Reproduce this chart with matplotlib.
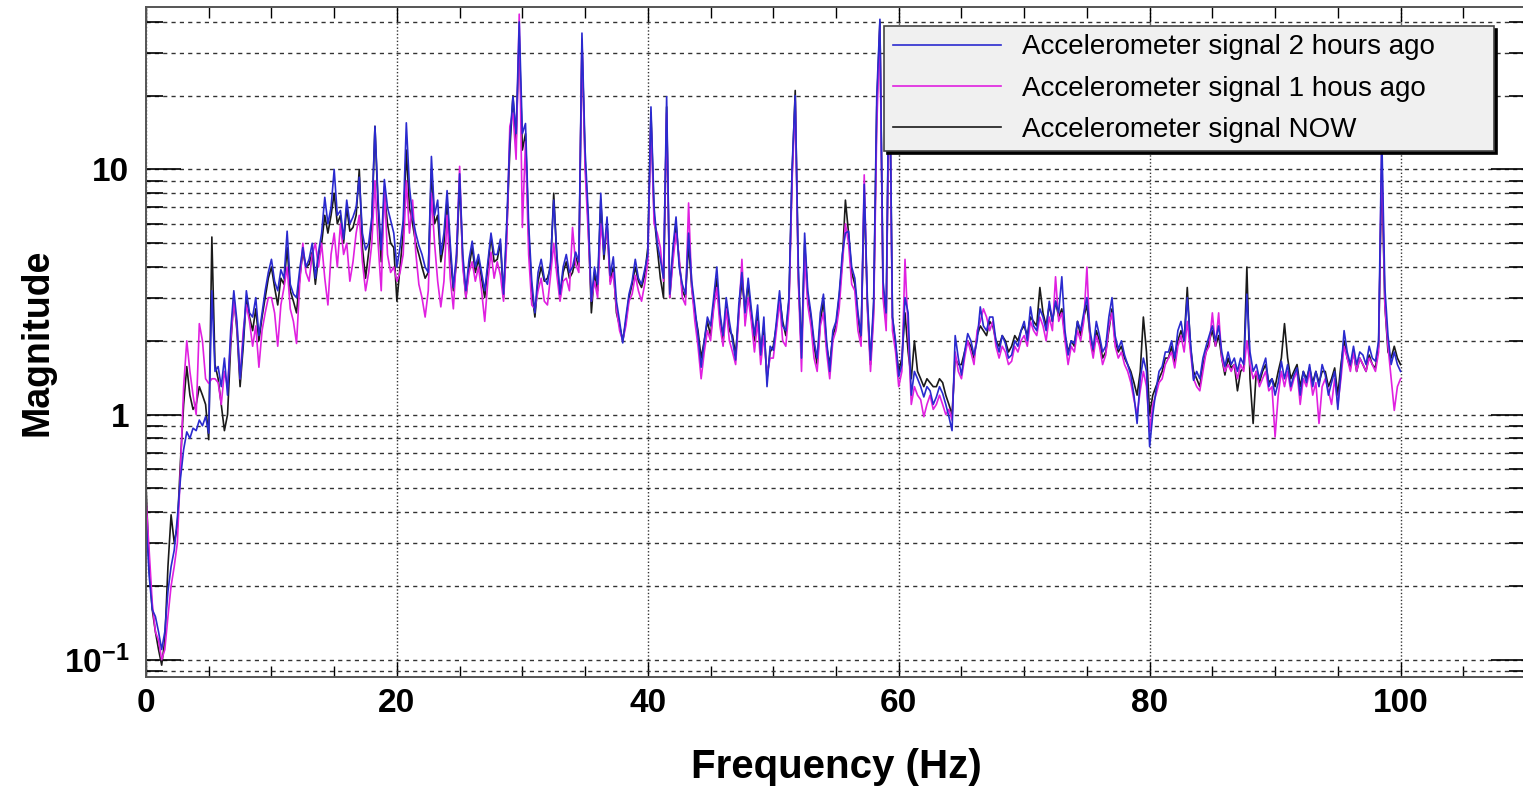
import numpy as np
import matplotlib
matplotlib.use('Agg')
import matplotlib.pyplot as plt
from matplotlib.ticker import MultipleLocator, LogLocator, FixedLocator, FixedFormatter, NullFormatter

plt.rcParams['font.family'] = ['Liberation Sans', 'DejaVu Sans']
plt.rcParams['mathtext.fontset'] = 'custom'
plt.rcParams['mathtext.rm'] = 'Liberation Sans'
plt.rcParams['mathtext.bf'] = 'Liberation Sans:bold'

# frequency bins, 0.25 Hz
freq = np.arange(0, 100.001, 0.25)

# signal 2 hours ago (blue)
sig_2h = [
    0.38, 0.22, 0.16, 0.15, 0.13, 0.11, 0.13, 0.19, 0.24, 0.28, 0.38, 0.55, 0.72, 0.85, 0.80, 0.88, 0.86, 0.95, 0.90, 0.98,
    0.84, 3.2, 1.5, 1.57, 1.3, 1.7, 1.2, 2.2, 3.2, 2.4, 1.4, 2.0, 3.2, 2.6, 2.5, 3.0, 2.1, 2.6, 3.2, 3.8,
    4.3, 3.5, 3.2, 3.9, 3.6, 5.6, 3.4, 3.1, 3.0, 3.9, 4.8, 4.0, 4.3, 5.0, 3.6, 4.6, 5.5, 7.7, 6.0, 7.0,
    10.0, 6.5, 6.8, 5.2, 7.5, 6.0, 6.4, 7.0, 9.3, 5.5, 4.7, 5.0, 6.4, 15.0, 7.5, 4.7, 9.1, 7.0, 6.2, 5.5,
    4.0, 4.8, 6.2, 15.5, 8.5, 6.4, 5.5, 4.9, 4.5, 4.0, 3.8, 11.3, 6.5, 7.5, 4.5, 5.5, 8.2, 5.0, 3.3, 4.5,
    9.6, 4.5, 3.2, 4.3, 5.1, 4.0, 4.5, 3.8, 3.2, 4.2, 5.5, 4.5, 4.5, 5.2, 3.1, 6.0, 13.2, 19.8, 14.0, 40.0,
    14.0, 15.4, 6.0, 3.5, 2.6, 3.8, 4.3, 3.6, 3.4, 4.2, 7.5, 4.5, 3.1, 4.0, 4.5, 3.8, 4.0, 4.6, 4.2, 36.0,
    12.0, 6.6, 2.9, 4.0, 3.4, 8.0, 4.5, 6.4, 3.7, 4.4, 2.9, 2.4, 1.96, 2.5, 3.1, 3.5, 4.3, 3.6, 3.4, 3.9,
    4.5, 18.0, 7.0, 5.0, 4.3, 3.6, 19.8, 3.1, 4.8, 6.4, 4.0, 3.4, 3.1, 5.5, 3.5, 2.75, 2.1, 1.56, 2.0, 2.5,
    2.3, 3.0, 4.0, 2.6, 2.1, 3.0, 2.4, 2.0, 1.67, 2.8, 3.8, 2.6, 3.6, 2.7, 2.1, 2.8, 1.75, 2.5, 1.3, 1.9,
    1.83, 2.4, 3.2, 2.3, 2.2, 3.0, 10.2, 20.0, 4.0, 1.7, 5.5, 3.2, 2.6, 2.0, 1.7, 2.6, 3.1, 2.0, 1.5, 2.2,
    2.4, 3.1, 4.5, 5.5, 5.6, 4.0, 3.6, 2.6, 2.1, 8.7, 3.0, 1.67, 2.9, 20.0, 41.0, 3.5, 2.6, 35.0, 2.5, 2.0,
    1.43, 1.6, 3.0, 2.6, 1.2, 1.5, 1.4, 1.3, 1.18, 1.3, 1.25, 1.1, 1.18, 1.3, 1.22, 1.1, 0.98, 0.86, 2.1, 1.7,
    1.45, 1.8, 2.14, 2.0, 1.75, 2.0, 2.75, 2.3, 2.2, 2.5, 2.5, 2.0, 1.8, 2.1, 1.95, 1.7, 1.75, 2.0, 1.9, 2.2,
    2.4, 2.0, 2.75, 2.3, 2.2, 2.7, 2.5, 2.2, 2.9, 2.4, 2.9, 2.6, 3.65, 2.2, 1.75, 2.0, 1.95, 2.4, 2.2, 2.6,
    3.0, 2.2, 1.85, 2.4, 2.1, 1.8, 1.9, 2.5, 3.0, 2.1, 1.85, 2.0, 1.75, 1.6, 1.45, 1.2, 0.92, 1.4, 1.7, 1.5,
    0.74, 1.0, 1.25, 1.5, 1.57, 1.8, 1.8, 2.0, 1.7, 2.2, 2.4, 2.0, 3.0, 2.0, 1.38, 1.5, 1.4, 1.7, 1.9, 2.1,
    2.3, 2.0, 2.3, 1.8, 1.57, 1.8, 1.6, 1.7, 1.5, 1.7, 1.6, 3.1, 1.8, 1.5, 1.6, 1.4, 1.55, 1.7, 1.3, 1.4,
    1.2, 1.35, 1.65, 1.4, 1.6, 1.3, 1.45, 1.55, 1.2, 1.5, 1.35, 1.6, 1.3, 1.5, 1.3, 1.6, 1.45, 1.2, 1.35, 1.5,
    1.05, 1.5, 2.2, 1.8, 1.6, 1.9, 1.6, 1.8, 1.75, 1.6, 1.9, 1.7, 1.65, 2.0, 14.0, 3.3, 2.1, 1.6, 1.8, 1.6,
    1.5]

# signal 1 hour ago (magenta)
sig_1h = [
    0.45, 0.28, 0.17, 0.13, 0.12, 0.10, 0.11, 0.15, 0.20, 0.24, 0.30, 0.60, 1.3, 2.0, 1.5, 1.2, 1.0, 2.35, 2.0, 1.4,
    1.34, 1.4, 1.4, 1.35, 1.1, 1.5, 1.3, 2.0, 2.9, 2.3, 1.4, 2.2, 2.8, 2.4, 1.9, 2.3, 1.56, 2.2, 2.6, 3.0,
    3.0, 2.6, 1.9, 2.8, 3.3, 4.0, 2.7, 2.4, 1.95, 3.4, 5.0, 3.8, 3.5, 4.5, 5.0, 4.0, 5.0, 3.6, 2.8, 4.5,
    5.5, 4.0, 6.0, 4.5, 5.0, 3.5, 4.2, 5.5, 6.5, 4.2, 3.2, 3.8, 5.0, 9.0, 5.0, 3.2, 8.5, 4.5, 3.8, 4.0,
    3.5, 3.8, 4.5, 9.0, 5.5, 7.5, 4.6, 3.4, 3.0, 2.5, 3.2, 8.0, 5.0, 3.5, 2.75, 3.5, 6.5, 3.6, 2.7, 4.5,
    10.3, 4.0, 3.0, 3.8, 4.2, 3.5, 4.0, 3.2, 2.4, 3.5, 4.6, 3.6, 4.2, 3.7, 2.9, 5.0, 15.0, 17.0, 11.0, 43.0,
    5.8, 13.0, 4.5, 2.8, 2.7, 3.2, 3.6, 2.9, 2.8, 3.7, 5.0, 3.7, 2.9, 3.5, 3.6, 3.2, 5.8, 4.1, 3.8, 34.0,
    10.0, 5.5, 2.9, 3.5, 3.0, 6.0, 4.7, 5.8, 3.4, 3.8, 2.7, 2.2, 2.0, 2.3, 2.9, 3.1, 3.7, 3.2, 2.9, 3.4,
    4.2, 16.0, 6.0, 5.5, 4.8, 3.5, 17.0, 3.0, 4.2, 5.5, 4.4, 3.0, 2.8, 7.3, 3.3, 2.4, 1.9, 1.4, 1.8, 2.2,
    2.0, 2.7, 3.3, 2.3, 1.9, 2.7, 2.0, 1.8, 1.6, 2.5, 4.3, 2.3, 3.0, 2.4, 1.8, 2.4, 1.6, 2.1, 1.45, 1.7,
    1.7, 2.2, 2.9, 2.0, 1.9, 2.7, 9.0, 19.0, 3.5, 1.5, 4.5, 2.8, 2.3, 1.7, 1.5, 2.3, 2.6, 1.8, 1.4, 2.0,
    2.2, 2.7, 4.0, 6.0, 5.0, 3.4, 3.2, 2.2, 1.9, 9.5, 2.7, 1.5, 2.5, 15.0, 38.0, 3.0, 2.2, 30.0, 2.2, 1.8,
    1.3, 1.5, 4.3, 2.2, 1.1, 1.3, 1.2, 1.15, 0.98, 1.1, 1.2, 1.05, 1.1, 1.2, 1.1, 1.0, 1.05, 0.95, 1.8, 1.5,
    1.4, 1.7, 2.0, 1.8, 1.6, 2.2, 2.4, 2.7, 2.5, 2.2, 2.4, 1.9, 1.7, 1.9, 1.8, 1.6, 1.65, 1.9, 1.8, 2.0,
    2.1, 1.9, 2.4, 2.2, 2.1, 2.5, 2.3, 2.0, 2.5, 2.2, 3.65, 2.4, 2.6, 2.0, 1.6, 1.9, 1.8, 2.2, 2.0, 2.4,
    4.0, 2.0, 1.7, 2.1, 1.9, 1.6, 1.75, 2.3, 2.6, 1.9, 1.7, 1.8, 1.6, 1.5, 1.35, 1.15, 1.0, 1.25, 1.5, 1.3,
    0.85, 1.1, 1.2, 1.35, 1.4, 1.6, 1.7, 1.8, 1.55, 1.9, 2.1, 1.8, 2.4, 1.8, 1.4, 1.3, 1.25, 1.5, 1.8, 1.9,
    2.6, 1.9, 2.6, 1.7, 1.5, 1.6, 1.5, 1.6, 1.4, 1.6, 1.5, 2.0, 1.6, 1.4, 1.5, 1.3, 1.4, 1.5, 1.25, 1.3,
    0.81, 1.2, 1.5, 1.3, 1.5, 1.25, 1.4, 1.5, 1.1, 1.4, 1.3, 1.5, 1.2, 1.35, 0.92, 1.3, 1.4, 1.25, 1.1, 1.4,
    1.1, 1.4, 1.9, 1.7, 1.5, 1.8, 1.5, 1.7, 1.6, 1.5, 1.7, 1.6, 1.5, 1.8, 12.0, 2.8, 1.9, 1.4, 1.04, 1.3,
    1.4]

# signal now (black)
sig_now = [
    0.52, 0.24, 0.16, 0.13, 0.11, 0.095, 0.12, 0.24, 0.39, 0.30, 0.35, 0.65, 1.1, 1.57, 1.2, 1.05, 1.1, 1.3, 1.2, 1.1,
    0.79, 5.3, 1.6, 1.4, 1.1, 0.86, 1.0, 1.9, 3.0, 2.2, 1.3, 1.9, 3.0, 2.5, 2.2, 2.7, 2.0, 2.5, 3.0, 3.6,
    4.0, 3.3, 2.8, 3.6, 3.4, 4.8, 3.2, 2.9, 2.6, 3.6, 4.6, 4.0, 4.1, 4.6, 3.4, 4.4, 5.0, 6.5, 5.5, 6.5,
    8.0, 6.0, 6.5, 5.0, 7.0, 5.6, 5.8, 6.5, 10.0, 4.8, 3.6, 4.6, 6.0, 15.0, 7.0, 4.2, 8.0, 6.0, 5.0, 4.8,
    2.9, 4.0, 5.5, 12.0, 7.0, 6.0, 5.0, 4.5, 4.0, 3.6, 3.8, 10.0, 6.0, 6.5, 4.2, 5.0, 7.5, 4.6, 3.2, 4.2,
    9.0, 4.2, 3.0, 4.0, 4.8, 3.8, 4.3, 3.6, 3.0, 4.0, 5.3, 4.2, 4.3, 5.0, 3.0, 5.5, 12.0, 20.0, 13.0, 35.0,
    12.0, 14.0, 5.5, 3.2, 2.5, 3.5, 4.0, 3.5, 3.6, 4.0, 8.0, 4.3, 3.0, 3.8, 4.2, 3.6, 3.8, 4.4, 4.0, 33.0,
    11.0, 6.0, 2.6, 3.8, 3.2, 7.5, 4.3, 6.0, 3.5, 4.0, 2.6, 2.3, 2.0, 2.4, 3.0, 3.4, 4.0, 3.5, 3.3, 3.7,
    4.8, 17.0, 6.5, 4.8, 3.6, 3.0, 18.0, 3.0, 4.5, 6.0, 4.2, 3.2, 3.0, 5.0, 3.3, 2.6, 2.2, 1.7, 2.0, 2.4,
    2.1, 2.8, 3.6, 2.5, 2.0, 2.8, 2.2, 2.1, 1.75, 2.6, 3.5, 2.7, 3.4, 2.5, 2.0, 2.6, 1.8, 2.3, 1.4, 1.8,
    1.9, 2.3, 3.0, 2.4, 2.1, 2.9, 9.5, 21.0, 3.6, 1.8, 5.0, 3.0, 2.5, 1.9, 1.6, 2.4, 2.9, 1.9, 1.6, 2.1,
    2.3, 3.0, 4.2, 7.5, 5.5, 3.8, 3.4, 2.5, 2.0, 8.0, 2.8, 1.6, 2.7, 18.0, 40.0, 3.2, 2.4, 32.0, 2.5, 1.9,
    1.5, 1.7, 2.6, 1.8, 1.4, 2.0, 1.5, 1.4, 1.3, 1.4, 1.35, 1.3, 1.3, 1.4, 1.35, 1.2, 1.1, 1.0, 1.7, 1.6,
    1.6, 1.8, 2.0, 1.9, 1.7, 2.1, 2.3, 2.2, 2.1, 2.4, 2.3, 2.0, 1.9, 2.1, 2.0, 1.8, 1.9, 2.1, 2.0, 2.2,
    2.3, 2.1, 2.5, 2.4, 2.3, 3.3, 2.6, 2.3, 2.8, 2.4, 2.9, 2.5, 2.7, 2.1, 1.8, 2.0, 1.9, 2.4, 2.1, 2.5,
    2.8, 2.1, 1.8, 2.2, 2.0, 1.7, 1.8, 2.2, 2.7, 2.0, 1.8, 1.9, 1.7, 1.6, 1.5, 1.35, 1.2, 1.5, 2.5, 1.8,
    1.0, 1.2, 1.3, 1.4, 1.5, 1.7, 1.7, 1.9, 1.6, 2.0, 2.2, 2.0, 3.3, 1.9, 1.5, 1.4, 1.3, 1.6, 1.8, 2.0,
    2.2, 1.9, 2.1, 1.7, 1.45, 1.7, 1.55, 1.6, 1.25, 1.5, 1.55, 4.0, 1.4, 0.92, 1.5, 1.35, 1.5, 1.6, 1.35, 1.4,
    1.3, 1.5, 1.7, 2.35, 1.7, 1.4, 1.5, 1.6, 1.3, 1.5, 1.4, 1.55, 1.35, 1.5, 1.35, 1.5, 1.5, 1.3, 1.4, 1.55,
    1.2, 1.6, 2.0, 1.7, 1.55, 1.8, 1.5, 1.7, 1.6, 1.5, 1.75, 1.6, 1.55, 1.9, 10.0, 2.8, 1.8, 1.7, 1.9, 1.7,
    1.6]

labels = ['Accelerometer signal 2 hours ago', 'Accelerometer signal 1 hous ago', 'Accelerometer signal NOW']
colors = ['#2a2acf', '#e020e0', '#1a1a1a']
ytick_vals = [0.1, 1, 10]
ytick_text = ['$\\mathbf{10^{-1}}$', '1', '10']


def main():
    fig = plt.figure(figsize=(15.23, 7.86), dpi=100)
    ax = fig.add_axes([146/1523, 109/786, 1380/1523, 670/786])

    l3, = ax.plot(freq, sig_now, color=colors[2], lw=1.2)
    l2, = ax.plot(freq, sig_1h, color=colors[1], lw=1.2)
    l1, = ax.plot(freq, sig_2h, color=colors[0], lw=1.2)

    ax.set_yscale('log')
    ax.set_xlim(0, 110)
    ax.set_ylim(0.085, 46)

    ax.xaxis.set_major_locator(MultipleLocator(20))
    ax.xaxis.set_minor_locator(MultipleLocator(5))
    ax.yaxis.set_major_locator(FixedLocator(ytick_vals))
    ax.yaxis.set_major_formatter(FixedFormatter(ytick_text))
    ax.yaxis.set_minor_locator(LogLocator(base=10, subs=np.arange(2, 10)))
    ax.yaxis.set_minor_formatter(NullFormatter())

    ax.tick_params(axis='x', which='major', direction='in', length=11, width=1, top=True, pad=8)
    ax.tick_params(axis='x', which='minor', direction='in', length=8, width=1, top=True)
    ax.tick_params(axis='y', which='major', direction='in', length=25, width=1.2, right=True, pad=12)
    ax.tick_params(axis='y', which='minor', direction='in', length=12, width=1.2, right=True)
    for t in ax.get_xticklabels() + ax.get_yticklabels():
        t.set_fontweight('bold')
        t.set_fontsize(24)

    ax.grid(True, axis='x', which='major', color='#333333', lw=1, linestyle=(0, (1, 1.5)))
    ax.grid(True, axis='y', which='both', color='#333333', lw=1, linestyle=(0, (3, 3)))
    ax.set_axisbelow(True)
    for s in ax.spines.values():
        s.set_color('#555555')
        s.set_linewidth(1.4)

    ax.set_xlabel('Frequency (Hz)', fontsize=29, fontweight='bold', labelpad=21)
    ax.set_ylabel('Magnitude', fontsize=27, fontweight='bold', labelpad=6)

    leg = ax.legend([l1, l2, l3], labels, loc='upper left', bbox_to_anchor=(0.535, 0.9716, 0.442, 0.0),
                    mode='expand', borderaxespad=0, fontsize=20, handlelength=3.9, handletextpad=0.76,
                    labelspacing=0.55, borderpad=0.3, fancybox=False, framealpha=1,
                    shadow={'color': 'black', 'alpha': 1})
    leg.get_frame().set_facecolor('#f0f0f0')
    leg.get_frame().set_edgecolor('#444444')
    leg.get_frame().set_linewidth(1.2)
    for ln in leg.get_lines():
        ln.set_linewidth(1.2)

    fig.savefig('out.png', dpi=100)


main()
